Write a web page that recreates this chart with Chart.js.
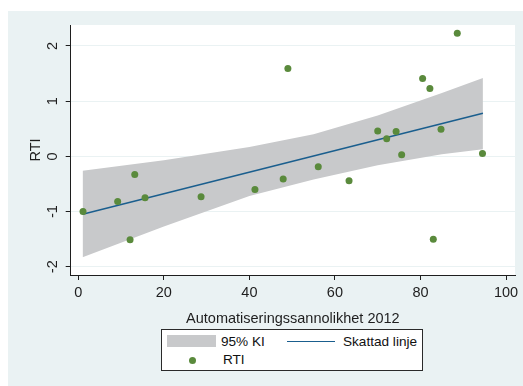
<!DOCTYPE html>
<html>
<head>
<meta charset="utf-8">
<script src="https://cdn.jsdelivr.net/npm/chart.js@4/dist/chart.umd.min.js"></script>
<style>
  html, body { margin: 0; padding: 0; background: #ffffff; }
  #wrap { position: relative; width: 523px; height: 386px; }
  #chart { position: absolute; left: 0; top: 0; }
  #legend {
    position: absolute; left: 161px; top: 329px; width: 262px; height: 42px;
    border: 1px solid #2a2a2a; background: #ffffff; box-sizing: border-box;
    font-family: "Liberation Sans", Arial, sans-serif; font-size: 13.6px; color: #111;
  }
  #legend .sw { position: absolute; left: 5px; top: 5px; width: 49px; height: 12px; background: #c8c9cb; }
  #legend .ln { position: absolute; left: 125px; top: 11px; width: 48px; height: 0; border-top: 1.5px solid #1a5e8e; }
  #legend .dot { position: absolute; left: 27px; top: 27px; width: 7px; height: 7px; border-radius: 50%; background: #5a8a3c; }
  #legend .t { position: absolute; line-height: 1; white-space: nowrap; }
</style>
</head>
<body>
<div id="wrap">
  <canvas id="chart" width="523" height="386"></canvas>
  <div id="legend">
    <div class="sw"></div>
    <div class="t" style="left:59px; top:5px;">95% KI</div>
    <div class="ln"></div>
    <div class="t" style="left:181px; top:5px;">Skattad linje</div>
    <div class="dot"></div>
    <div class="t" style="left:61px; top:23px;">RTI</div>
  </div>
</div>
<script>
// Automation probability 2012 (x) against RTI (y), one point per occupation group
const automation = [1.1, 9.2, 12.1, 13.2, 15.6, 28.7, 41.3, 47.9, 49.0, 56.1, 63.3,
                    70.0, 72.1, 74.3, 75.6, 80.5, 82.2, 83.0, 84.8, 88.6, 94.5];
const rti        = [-1.00, -0.82, -1.51, -0.33, -0.75, -0.73, -0.60, -0.41, 1.59, -0.19, -0.44,
                    0.46, 0.32, 0.45, 0.03, 1.41, 1.23, -1.50, 0.49, 2.23, 0.05];

// Fitted line endpoints
const fitX = [1.0, 94.6];
const fitY = [-1.05, 0.78];

// 95% confidence band
const bandX  = [1.0, 20, 40, 55, 70, 85, 94.6];
const bandHi = [-0.26, -0.07, 0.17, 0.40, 0.74, 1.15, 1.42];
const bandLo = [-1.83, -1.27, -0.72, -0.42, -0.16, 0.04, 0.13];

// Axis ticks
const xTicks = [0, 20, 40, 60, 80, 100];
const yTicks = [-2, -1, 0, 1, 2];

const FONT = { family: '"Liberation Sans", Arial, sans-serif', size: 14.5 };
const INK = '#1e1e1e';
const PANEL = '#eaf2f3';

const pts = (xs, ys) => xs.map((x, i) => ({ x, y: ys[i] }));

const backgroundPlugin = {
  id: 'panelBackground',
  beforeDraw(chart) {
    const { ctx, chartArea } = chart;
    ctx.save();
    ctx.fillStyle = '#ffffff';
    ctx.fillRect(0, 0, chart.width, chart.height);
    ctx.fillStyle = PANEL;
    ctx.fillRect(8, 11, chart.width - 8, chart.height - 11);
    ctx.fillStyle = '#ffffff';
    ctx.fillRect(chartArea.left, chartArea.top, chartArea.right - chartArea.left, chartArea.bottom - chartArea.top);
    ctx.restore();
  }
};

new Chart(document.getElementById('chart'), {
  type: 'scatter',
  data: {
    datasets: [
      {
        label: 'RTI',
        data: pts(automation, rti),
        backgroundColor: '#5a8a3c',
        borderWidth: 0,
        pointRadius: 3.5,
        order: 0
      },
      {
        label: 'Skattad linje',
        type: 'line',
        data: pts(fitX, fitY),
        borderColor: '#1a5e8e',
        borderWidth: 1.5,
        pointRadius: 0,
        fill: false,
        order: 1
      },
      {
        label: '95% KI',
        type: 'line',
        data: pts(bandX, bandHi),
        borderWidth: 0,
        borderColor: 'rgba(0,0,0,0)',
        backgroundColor: '#c8c9cb',
        pointRadius: 0,
        fill: '+1',
        order: 2
      },
      {
        label: '95% KI nedre',
        type: 'line',
        data: pts(bandX, bandLo),
        borderWidth: 0,
        borderColor: 'rgba(0,0,0,0)',
        pointRadius: 0,
        fill: false,
        order: 3
      }
    ]
  },
  options: {
    responsive: false,
    animation: false,
    events: [],
    layout: { padding: { left: 8, top: 25, right: 8, bottom: 0 } },
    plugins: { legend: { display: false }, tooltip: { enabled: false } },
    scales: {
      x: {
        type: 'linear',
        min: -1.78,
        max: 102.1,
        afterBuildTicks: s => { s.ticks = xTicks.map(v => ({ value: v })); },
        afterFit: s => { s.height = 111; },
        grid: { display: true, drawOnChartArea: false, drawTicks: true, tickLength: 5, tickColor: INK, tickWidth: 1 },
        border: { display: true, color: INK, width: 1 },
        ticks: { font: FONT, color: INK, padding: 4, maxRotation: 0 },
        title: { display: true, text: 'Automatiseringssannolikhet 2012', font: FONT, color: INK, padding: { top: 0, bottom: 58 } }
      },
      y: {
        type: 'linear',
        min: -2.15,
        max: 2.38,
        afterBuildTicks: s => { s.ticks = yTicks.map(v => ({ value: v })); },
        afterFit: s => { s.width = 62.7; },
        grid: { display: true, drawOnChartArea: true, color: PANEL, lineWidth: 1, drawTicks: true, tickLength: 5, tickColor: INK, tickWidth: 1 },
        border: { display: true, color: INK, width: 1 },
        ticks: { font: FONT, color: INK, padding: 6, minRotation: 90, maxRotation: 90, crossAlign: 'center' },
        title: { display: true, text: 'RTI', font: FONT, color: INK, padding: { top: 19.5, bottom: 0 } }
      }
    }
  },
  plugins: [backgroundPlugin]
});
</script>
</body>
</html>
